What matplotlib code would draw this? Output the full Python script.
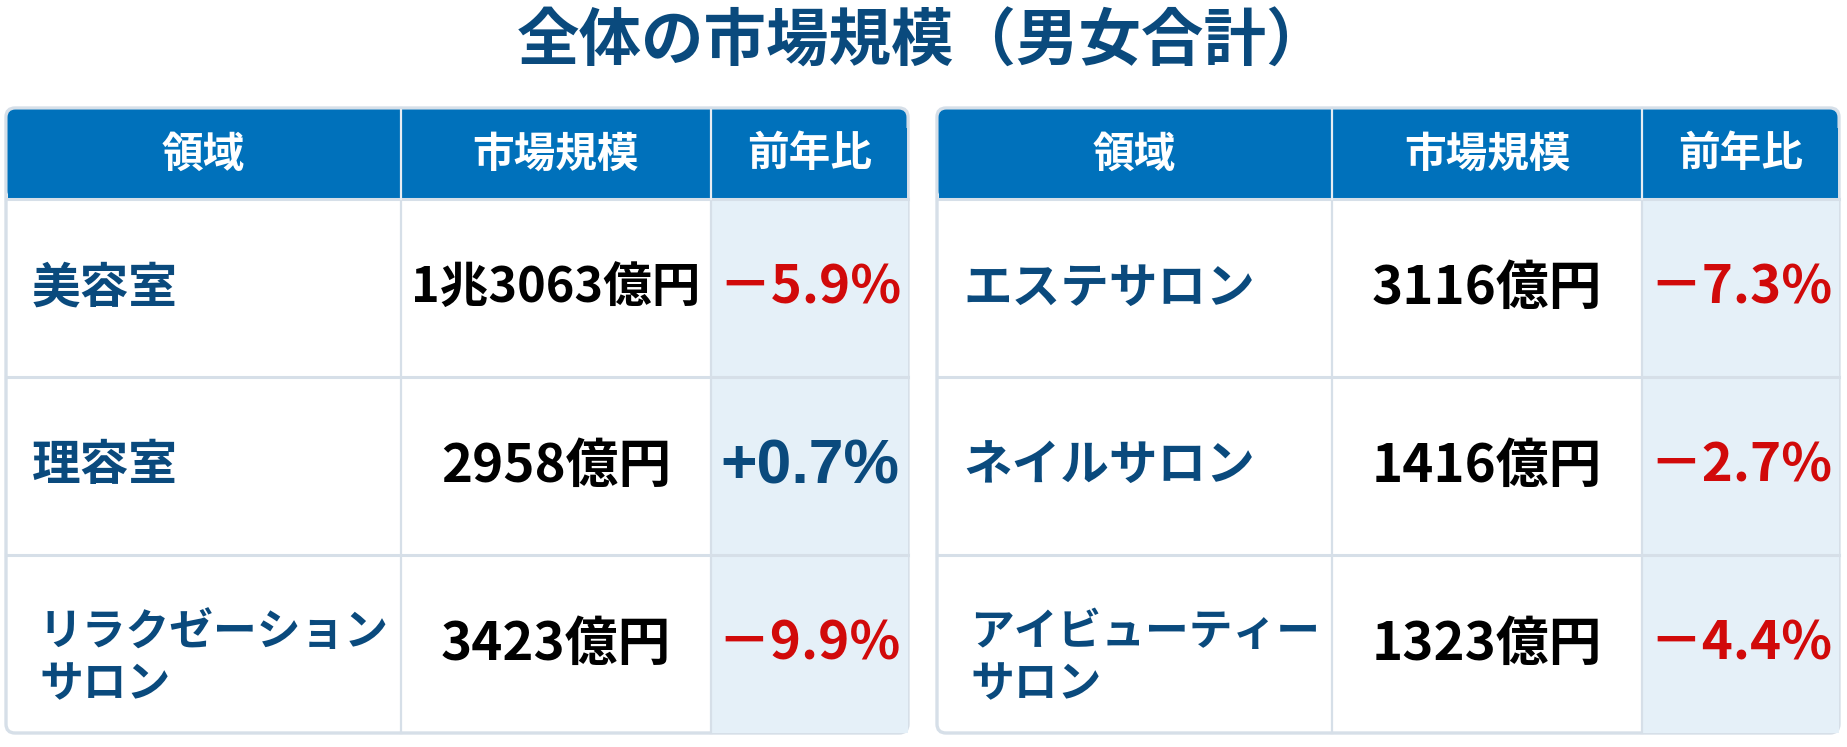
import matplotlib.pyplot as plt
from matplotlib.patches import Rectangle, FancyBboxPatch

plt.rcParams['font.family'] = ['Noto Sans CJK JP', 'DejaVu Sans']

title = "全体の市場規模（男女合計）"
headers = ["領域", "市場規模", "前年比"]

left_areas = ["美容室", "理容室", "リラクゼーション\nサロン"]
left_sizes = ["1兆3063億円", "2958億円", "3423億円"]
left_yoy = [-5.9, 0.7, -9.9]

right_areas = ["エステサロン", "ネイルサロン", "アイビューティー\nサロン"]
right_sizes = ["3116億円", "1416億円", "1323億円"]
right_yoy = [-7.3, -2.7, -4.4]

HEAD_BLUE = "#0071bb"
DARK_BLUE = "#0a4a7d"
RED = "#d10a0a"
PALE = "#e5f0f8"
GRID = "#d6dfe8"

fig = plt.figure(figsize=(18.47, 7.47), dpi=100)
ax = fig.add_axes([0, 0, 1, 1])
ax.set_xlim(0, 1847)
ax.set_ylim(747, 0)
ax.axis("off")

ax.text(923, 42, title, ha="center", va="center", fontsize=45,
        fontweight="bold", color=DARK_BLUE)

head_top, head_bot = 108, 199
row_h = 178
col_w = [395, 310, 197]


def fmt_yoy(v):
    if v < 0:
        return "－" + f"{abs(v):.1f}%"
    return "+" + f"{v:.1f}%"


def draw_table(x0, areas, sizes, yoy):
    xs = [x0, x0 + col_w[0], x0 + col_w[0] + col_w[1], x0 + sum(col_w)]
    bottom = head_bot + row_h * len(areas)
    # outer frame
    ax.add_patch(FancyBboxPatch((x0, head_top), sum(col_w), bottom - head_top,
                                boxstyle="round,pad=0,rounding_size=9",
                                facecolor="white", edgecolor=GRID, lw=2.4,
                                zorder=1))
    # pale last column
    ax.add_patch(Rectangle((xs[2], head_bot), xs[3] - xs[2], bottom - head_bot,
                           facecolor=PALE, edgecolor="none", zorder=2))
    # header
    ax.add_patch(FancyBboxPatch((x0 + 1.5, head_top + 1.5), sum(col_w) - 3,
                                head_bot - head_top - 1.5,
                                boxstyle="round,pad=0,rounding_size=8",
                                facecolor=HEAD_BLUE, edgecolor="none", zorder=3))
    ax.add_patch(Rectangle((x0 + 1.5, head_top + 20), sum(col_w) - 3,
                           head_bot - head_top - 20,
                           facecolor=HEAD_BLUE, edgecolor="none", zorder=3))
    # grid lines
    for x in xs[1:3]:
        ax.plot([x, x], [head_top, bottom], color=GRID, lw=1.6, zorder=4)
    for i in range(len(areas)):
        y = head_bot + row_h * i
        ax.plot([x0, xs[3]], [y, y], color=GRID, lw=2.2, zorder=4)
    for x in xs[1:3]:
        ax.plot([x, x], [head_top + 2, head_bot], color="#e8eef4", lw=1.4, zorder=4)

    for j, h in enumerate(headers):
        ax.text((xs[j] + xs[j + 1]) / 2, (head_top + head_bot) / 2 + 1, h,
                ha="center", va="center", fontsize=30, fontweight="bold",
                color="white", zorder=5)

    for i in range(len(areas)):
        yc = head_bot + row_h * i + row_h / 2
        two = "\n" in areas[i]
        ax.text(x0 + (33 if two else 26), yc + (14 if two else 0), areas[i],
                ha="left", va="center", fontsize=31.5 if two else 35,
                fontweight="bold", color=DARK_BLUE, linespacing=1.25, zorder=5)
        # long value squeezed like the original
        ax.text((xs[1] + xs[2]) / 2, yc, sizes[i], ha="center", va="center",
                fontsize=35 if len(sizes[i]) > 7 else 38, fontweight="bold",
                color="black", zorder=5)
        if yoy[i] < 0:
            ax.text((xs[2] + xs[3]) / 2, yc, fmt_yoy(yoy[i]), ha="center",
                    va="center", fontsize=38, fontweight="bold", color=RED,
                    zorder=5)
        else:
            ax.text((xs[2] + xs[3]) / 2, yc + 1, fmt_yoy(yoy[i]), ha="center",
                    va="center", fontsize=45, fontweight="bold",
                    color=DARK_BLUE, family=["Liberation Sans", "DejaVu Sans"],
                    zorder=5)


draw_table(6, left_areas, left_sizes, left_yoy)
draw_table(937, right_areas, right_sizes, right_yoy)

fig.savefig("out.png", dpi=100, facecolor="white")
